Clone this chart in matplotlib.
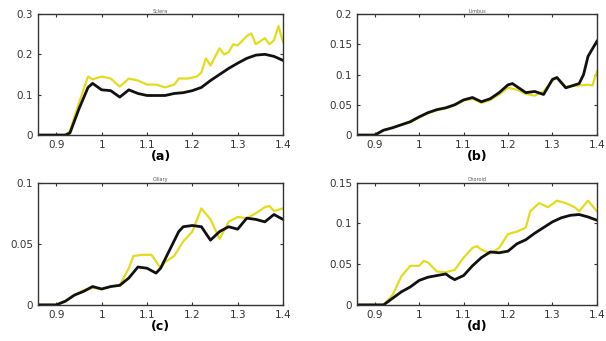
import matplotlib.pyplot as plt

# (a)
xa_y = [0.86, 0.90, 0.92, 0.93, 0.95, 0.97, 0.98, 1.00, 1.02, 1.04, 1.06, 1.08, 1.10, 1.12, 1.14,
        1.16, 1.17, 1.19, 1.21, 1.22, 1.23, 1.24, 1.26, 1.27, 1.28, 1.29, 1.30, 1.32, 1.33, 1.34,
        1.36, 1.37, 1.38, 1.39, 1.40]
ya_y = [0, 0, 0, 0.01, 0.08, 0.145, 0.138, 0.145, 0.14, 0.12, 0.14, 0.135, 0.125, 0.125, 0.118,
        0.125, 0.14, 0.14, 0.145, 0.155, 0.19, 0.172, 0.215, 0.2, 0.205, 0.225, 0.222, 0.245, 0.252, 0.225,
        0.24, 0.225, 0.235, 0.27, 0.23]
xa_k = [0.86, 0.90, 0.92, 0.93, 0.95, 0.97, 0.98, 1.00, 1.02, 1.04, 1.06, 1.08, 1.10, 1.12, 1.14,
        1.16, 1.18, 1.20, 1.22, 1.24, 1.26, 1.28, 1.30, 1.32, 1.34, 1.36, 1.38, 1.40]
ya_k = [0, 0, 0, 0.005, 0.065, 0.118, 0.128, 0.112, 0.11, 0.094, 0.112, 0.103, 0.098, 0.098, 0.098,
        0.103, 0.105, 0.11, 0.118, 0.135, 0.15, 0.165, 0.178, 0.19, 0.198, 0.2, 0.195, 0.185]

# (b)
xb_k = [0.86, 0.90, 0.92, 0.94, 0.96, 0.98, 1.00, 1.02, 1.04, 1.06, 1.08, 1.10, 1.12, 1.14, 1.16,
        1.18, 1.20, 1.21, 1.22, 1.24, 1.26, 1.28, 1.30, 1.31, 1.33, 1.36, 1.37, 1.38, 1.40]
yb_k = [0, 0, 0.008, 0.012, 0.017, 0.022, 0.03, 0.037, 0.042, 0.045, 0.05, 0.058, 0.062, 0.055, 0.06,
        0.07, 0.083, 0.085, 0.08, 0.07, 0.072, 0.067, 0.092, 0.095, 0.078, 0.085, 0.1, 0.13, 0.155]
xb_y = [0.86, 0.90, 0.92, 0.94, 0.96, 0.98, 1.00, 1.02, 1.04, 1.06, 1.08, 1.10, 1.12, 1.14, 1.16,
        1.18, 1.20, 1.22, 1.24, 1.26, 1.28, 1.30, 1.31, 1.33, 1.36, 1.38, 1.39, 1.40]
yb_y = [0, 0, 0.008, 0.012, 0.017, 0.021, 0.029, 0.036, 0.041, 0.044, 0.049, 0.057, 0.06, 0.053, 0.058,
        0.067, 0.078, 0.075, 0.068, 0.065, 0.072, 0.09, 0.095, 0.08, 0.082, 0.083, 0.082, 0.105]

# (c)
xc_k = [0.86, 0.90, 0.92, 0.94, 0.96, 0.98, 1.00, 1.02, 1.04, 1.06, 1.08, 1.10, 1.12, 1.13, 1.15,
        1.17, 1.18, 1.20, 1.22, 1.24, 1.26, 1.28, 1.30, 1.32, 1.34, 1.36, 1.38, 1.40]
yc_k = [0, 0, 0.003, 0.008, 0.011, 0.015, 0.013, 0.015, 0.016, 0.022, 0.031, 0.03, 0.026, 0.03, 0.045,
        0.06, 0.064, 0.065, 0.064, 0.053, 0.06, 0.064, 0.062, 0.071, 0.07, 0.068, 0.074, 0.07]
xc_y = [0.86, 0.90, 0.92, 0.94, 0.96, 0.98, 1.00, 1.02, 1.04, 1.06, 1.07, 1.09, 1.11, 1.13, 1.14,
        1.16, 1.18, 1.20, 1.22, 1.24, 1.26, 1.28, 1.30, 1.32, 1.34, 1.36, 1.37, 1.38, 1.40]
yc_y = [0, 0, 0.003, 0.008, 0.012, 0.014, 0.013, 0.015, 0.016, 0.03, 0.04, 0.041, 0.041, 0.03, 0.035,
        0.04, 0.052, 0.06, 0.079, 0.07, 0.054, 0.068, 0.072, 0.071, 0.075, 0.08, 0.081, 0.077, 0.079]

# (d)
xd_k = [0.86, 0.92, 0.94, 0.96, 0.98, 1.00, 1.02, 1.04, 1.06, 1.07, 1.08, 1.10, 1.12, 1.14, 1.16,
        1.18, 1.20, 1.22, 1.24, 1.26, 1.28, 1.30, 1.32, 1.34, 1.36, 1.38, 1.40]
yd_k = [0, 0, 0.008, 0.016, 0.022, 0.03, 0.034, 0.036, 0.038, 0.034, 0.031, 0.036, 0.048, 0.058, 0.065,
        0.064, 0.066, 0.075, 0.08, 0.088, 0.095, 0.102, 0.107, 0.11, 0.111, 0.108, 0.104]
xd_y = [0.86, 0.92, 0.94, 0.96, 0.98, 1.00, 1.01, 1.02, 1.04, 1.06, 1.08, 1.10, 1.12, 1.13, 1.14,
        1.16, 1.18, 1.20, 1.22, 1.24, 1.25, 1.27, 1.29, 1.31, 1.33, 1.35, 1.36, 1.38, 1.40]
yd_y = [0, 0, 0.012, 0.035, 0.048, 0.048, 0.054, 0.052, 0.041, 0.04, 0.043, 0.058, 0.07, 0.072, 0.068,
        0.063, 0.07, 0.087, 0.09, 0.095, 0.115, 0.125, 0.12, 0.128, 0.125, 0.12, 0.115, 0.128, 0.115]

titles = ['Sclera', 'Limbus', 'Ciliary', 'Choroid']
letters = ['(a)', '(b)', '(c)', '(d)']
yticks = [[0, 0.1, 0.2, 0.3], [0, 0.05, 0.1, 0.15, 0.2], [0, 0.05, 0.1], [0, 0.05, 0.1, 0.15]]
yticklabels = [['0', '0.1', '0.2', '0.3'], ['0', '0.05', '0.1', '0.15', '0.2'],
               ['0', '0.05', '0.1'], ['0', '0.05', '0.1', '0.15']]
xticks = [0.9, 1.0, 1.1, 1.2, 1.3, 1.4]
xticklabels = ['0.9', '1', '1.1', '1.2', '1.3', '1.4']

series = [(xa_k, ya_k, xa_y, ya_y), (xb_k, yb_k, xb_y, yb_y),
          (xc_k, yc_k, xc_y, yc_y), (xd_k, yd_k, xd_y, yd_y)]

# axes boxes in figure fractions
boxes = [[0.063, 0.604, 0.404, 0.355], [0.589, 0.604, 0.396, 0.355],
         [0.063, 0.106, 0.404, 0.358], [0.589, 0.106, 0.396, 0.358]]

fig = plt.figure(figsize=(6.06, 3.41), dpi=100)
for i in range(4):
    ax = fig.add_axes(boxes[i])
    xk, yk, xy, yy = series[i]
    ax.plot(xy, yy, color='#e3dc1e', lw=1.6)
    ax.plot(xk, yk, color='#111111', lw=2.0)
    ax.set_xlim(0.86, 1.4)
    ax.set_ylim(yticks[i][0], yticks[i][-1])
    ax.set_xticks(xticks)
    ax.set_xticklabels(xticklabels)
    ax.set_yticks(yticks[i])
    ax.set_yticklabels(yticklabels[i])
    ax.tick_params(direction='in', length=2, labelsize=7.5, colors='#333333',
                   top=True, right=True)
    for s in ax.spines.values():
        s.set_linewidth(1.0)
        s.set_color('#333333')
    ax.set_title(titles[i], fontsize=3.5, pad=1, color='#555555')
    ax.set_xlabel(letters[i], fontsize=9, fontweight='bold', labelpad=0)

plt.savefig('out.png', dpi=100)
